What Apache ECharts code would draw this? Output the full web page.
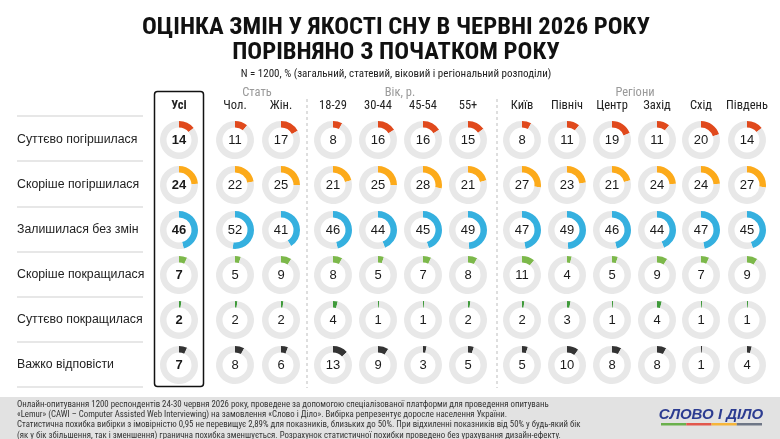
<!DOCTYPE html>
<html>
<head>
<meta charset="utf-8">
<script src="https://cdn.jsdelivr.net/npm/echarts@6/dist/echarts.min.js"></script>
<style>
  html, body { margin: 0; padding: 0; background: #fff; }
  #main { width: 780px; height: 439px; }
</style>
</head>
<body>
<div id="main"></div>
<script>
// дані
const columns = ['Усі', 'Чол.', 'Жін.', '18-29', '30-44', '45-54', '55+', 'Київ', 'Північ', 'Центр', 'Захід', 'Схід', 'Південь'];
const groups = ['Стать', 'Вік, р.', 'Регіони'];
const answers = ['Суттєво погіршилася', 'Скоріше погіршилася', 'Залишилася без змін', 'Скоріше покращилася', 'Суттєво покращилася', 'Важко відповісти'];

const worseMuch   = [14, 11, 17, 8, 16, 16, 15, 8, 11, 19, 11, 20, 14];
const worseRather = [24, 22, 25, 21, 25, 28, 21, 27, 23, 21, 24, 24, 27];
const noChange    = [46, 52, 41, 46, 44, 45, 49, 47, 49, 46, 44, 47, 45];
const betterRather = [7, 5, 9, 8, 5, 7, 8, 11, 4, 5, 9, 7, 9];
const betterMuch  = [2, 2, 2, 4, 1, 1, 2, 2, 3, 1, 4, 1, 1];
const hardToSay   = [7, 8, 6, 13, 9, 3, 5, 5, 10, 8, 8, 1, 4];
const rows = [worseMuch, worseRather, noChange, betterRather, betterMuch, hardToSay];

// розкладка і кольори
const rowColors = ['#e0491c', '#fcaa1a', '#35b0df', '#7cb84a', '#3f9a3a', '#333333'];
const colX = [179, 235, 281, 333, 378, 423, 468, 522, 567, 612, 657, 701, 747];
const rowY = [140, 185, 230, 275, 320, 365];
const groupX = [257, 400, 635];
const lineY = [116, 161, 207, 252, 297, 342, 387];
const narrow = '"Liberation Sans Narrow", "Arial Narrow", "Roboto Condensed", "Liberation Sans", sans-serif';
const sans = '"Liberation Sans", Arial, sans-serif';

const footer = [
  'Онлайн-опитування 1200 респондентів 24-30 червня 2026 року, проведене за допомогою спеціалізованої платформи для проведення опитувань',
  '«Lemur» (CAWI – Computer Assisted Web Interviewing) на замовлення «Слово і Діло». Вибірка репрезентує доросле населення України.',
  'Статистична похибка вибірки з імовірністю 0,95 не перевищує 2,89% для показників, близьких до 50%. При відхиленні показників від 50% у будь-який бік',
  '(як у бік збільшення, так і зменшення) гранична похибка зменшується. Розрахунок статистичної похибки проведено без урахування дизайн-ефекту.'
];

let chart = echarts.init(document.getElementById('main'));

let series = [];
rows.forEach(function (vals, r) {
  vals.forEach(function (v, c) {
    series.push({
      type: 'pie',
      silent: true,
      animation: false,
      center: [colX[c], rowY[r]],
      radius: [12.5, 19],
      startAngle: 90,
      avoidLabelOverlap: false,
      labelLine: { show: false },
      data: [
        {
          value: v,
          itemStyle: { color: rowColors[r] },
          label: {
            show: true, position: 'center', formatter: String(v),
            fontFamily: sans, fontSize: 13,
            fontWeight: c === 0 ? 'bold' : 'normal', color: '#1a1a1a'
          }
        },
        { value: 100 - v, itemStyle: { color: '#e8e8e8' }, label: { show: false } }
      ]
    });
  });
});

let graphic = [];
// лінії між рядками та підписи
lineY.forEach(function (y) {
  graphic.push({ type: 'line', shape: { x1: 17, y1: y, x2: 143, y2: y }, style: { stroke: '#cfcfcf', lineWidth: 1 } });
});
answers.forEach(function (a, i) {
  graphic.push({ type: 'text', x: 17, y: rowY[i], style: { text: a, fontFamily: sans, fontSize: 12.3, fill: '#222', textVerticalAlign: 'middle' } });
});
// заголовки колонок
columns.forEach(function (name, c) {
  graphic.push({ type: 'text', x: colX[c], y: 106, style: {
    text: name, fontFamily: narrow, fontSize: 12.5, fill: '#222',
    fontWeight: c === 0 ? 'bold' : 'normal', textAlign: 'center', textVerticalAlign: 'middle' } });
});
groups.forEach(function (g, i) {
  graphic.push({ type: 'text', x: groupX[i], y: 93, style: { text: g, fontFamily: narrow, fontSize: 12.5, fill: '#9a9a9a', textAlign: 'center', textVerticalAlign: 'middle' } });
});
// пунктирні роздільники
[307, 497].forEach(function (x) {
  graphic.push({ type: 'line', shape: { x1: x, y1: 99, x2: x, y2: 388 }, style: { stroke: '#bdbdbd', lineWidth: 1, lineDash: [3, 3] } });
});
// рамка "Усі"
graphic.push({ type: 'rect', shape: { x: 154.5, y: 91.5, width: 49, height: 295, r: 3 }, style: { fill: 'none', stroke: '#111', lineWidth: 1.5 } });
// підвал
graphic.push({ type: 'rect', shape: { x: 0, y: 397, width: 780, height: 42 }, style: { fill: '#e2e2e2' } });
footer.forEach(function (t, i) {
  graphic.push({ type: 'text', x: 17, y: 404.5 + i * 10.3, style: { text: t, fontFamily: narrow, fontSize: 8.8, fill: '#333', textVerticalAlign: 'middle' } });
});
// логотип
graphic.push({ type: 'text', x: 711, y: 415, style: { text: 'СЛОВО І ДІЛО', fontFamily: sans, fontSize: 15, fontWeight: 'bold', fontStyle: 'italic', fill: '#2c3c91', textAlign: 'center', textVerticalAlign: 'middle' } });
['#6ab04c', '#e2574c', '#f6b53a', '#6e7686'].forEach(function (col, i) {
  graphic.push({ type: 'rect', shape: { x: 661 + i * 25.25, y: 423, width: 25.25, height: 2.5 }, style: { fill: col } });
});

chart.setOption({
  backgroundColor: '#fff',
  title: [
    {
      text: 'ОЦІНКА ЗМІН У ЯКОСТІ СНУ В ЧЕРВНІ 2026 РОКУ\nПОРІВНЯНО З ПОЧАТКОМ РОКУ',
      left: 391, top: 10, textAlign: 'center',
      textStyle: { fontFamily: narrow, fontSize: 24.6, fontWeight: 'bold', lineHeight: 25, color: '#111' }
    },
    {
      text: 'N = 1200, % (загальний, статевий, віковий і регіональний розподіли)',
      left: 391, top: 64, textAlign: 'center',
      textStyle: { fontFamily: narrow, fontSize: 11, fontWeight: 'normal', color: '#222' }
    }
  ],
  series: series,
  graphic: graphic
});
</script>
</body>
</html>
